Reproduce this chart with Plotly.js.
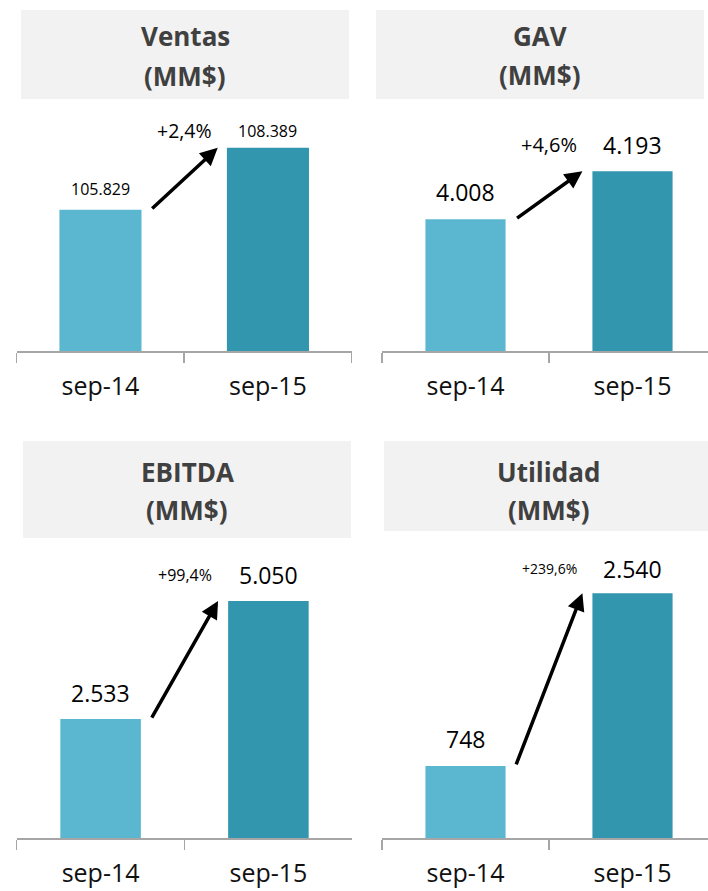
<!DOCTYPE html>
<html>
<head>
<meta charset="utf-8">
<script src="https://cdn.plot.ly/plotly-3.0.1.min.js"></script>
<style>html,body{margin:0;padding:0;background:#fff;}#chart{width:708px;height:891px;}</style>
</head>
<body>
<div id="chart"></div>
<script>
// ---- data ----
const categories = ['sep-14', 'sep-15'];
const panelTitles = ['Ventas', 'GAV', 'EBITDA', 'Utilidad'];
const unitLabel = '(MM$)';
const ventas = [105829, 108389];
const gav = [4008, 4193];
const ebitda = [2533, 5050];
const utilidad = [748, 2540];
const growthLabels = ['+2,4%', '+4,6%', '+99,4%', '+239,6%'];

// ---- styling ----
const barColors = ['#5bb7d0', '#3196ae'];
const FONT = '"Open Sans", "Noto Sans", sans-serif';
const W = 708, H = 891;
const px = v => v / W;
const py = v => 1 - v / H;

function fmt(n) {
  return String(Math.round(n)).replace(/\B(?=(\d{3})+(?!\d))/g, '.');
}

const series = [ventas, gav, ebitda, utilidad];
const panels = [
  { xd: [16.7, 351.7], xr: [-0.5, 1.5], yd: [351, 108.8], yr: [100000, 110000], bw: 0.49,
    box: [21, 349, 10, 99], tx: 185, ty: [36, 76], lab: [16, 16], labShift: [21, 17], pct: 19.5 },
  { xd: [382, 708], xr: [-0.5, -0.5 + 326 / 167], yd: [351, 117.4], yr: [3500, 4400], bw: 0.48,
    box: [376, 704, 10, 99], tx: 540, ty: [36, 75], lab: [23, 23], labShift: [27, 26.5], pct: 20 },
  { xd: [16.7, 352.3], xr: [-0.5, 1.5], yd: [838, 556.3], yr: [0, 6000], bw: 0.48,
    box: [23, 351, 441, 538], tx: 187, ty: [472, 510], lab: [23, 23], labShift: [25.7, 26.3], pct: 16 },
  { xd: [382, 708], xr: [-0.5, -0.5 + 326 / 167], yd: [838, 548.8], yr: [0, 3000], bw: 0.48,
    box: [384, 713, 441, 531], tx: 548.7, ty: [472, 510], lab: [23, 23], labShift: [27, 24.5], pct: 14 }
];

const data = [];
const layout = {
  width: W, height: H,
  margin: { l: 0, r: 0, t: 0, b: 0, pad: 0 },
  paper_bgcolor: '#ffffff', plot_bgcolor: 'rgba(0,0,0,0)',
  showlegend: false,
  font: { family: FONT, color: '#000000' },
  shapes: [], annotations: []
};

panels.forEach((p, i) => {
  const n = i === 0 ? '' : String(i + 1);
  const xa = 'x' + n, ya = 'y' + n;
  const vals = series[i];
  data.push({
    type: 'bar', x: categories, y: vals, xaxis: xa, yaxis: ya,
    width: p.bw, marker: { color: barColors, line: { width: 0 } },
    hoverinfo: 'skip'
  });
  layout['xaxis' + n] = {
    domain: [px(p.xd[0]), Math.min(1, px(p.xd[1]))], range: p.xr, anchor: ya,
    type: 'category', showgrid: false, zeroline: false,
    showline: true, linecolor: '#a6a6a6', linewidth: 1.5,
    ticks: 'outside', tickson: 'boundaries', ticklen: 10, tickwidth: 1.5, tickcolor: '#a6a6a6',
    ticklabelstandoff: 12,
    tickfont: { family: FONT, size: 25, color: '#111111' }, fixedrange: true
  };
  layout['yaxis' + n] = {
    domain: [py(p.yd[0]), py(p.yd[1])], range: p.yr, anchor: xa,
    visible: false, showgrid: false, zeroline: false, fixedrange: true
  };
  // title box
  layout.shapes.push({
    type: 'rect', xref: 'paper', yref: 'paper',
    x0: px(p.box[0]), x1: px(p.box[1]), y0: py(p.box[3]), y1: py(p.box[2]),
    fillcolor: '#f2f2f2', line: { width: 0 }, layer: 'below'
  });
  [panelTitles[i], unitLabel].forEach((t, k) => {
    layout.annotations.push({
      xref: 'paper', yref: 'paper', x: px(p.tx), y: py(p.ty[k]),
      xanchor: 'center', yanchor: 'middle', showarrow: false,
      text: '<b>' + t + '</b>', font: { family: FONT, size: 26, color: '#404040' }
    });
  });
  // value labels
  vals.forEach((v, k) => {
    layout.annotations.push({
      xref: xa, yref: ya, x: categories[k], y: v, yshift: p.labShift[k],
      xanchor: 'center', yanchor: 'middle', showarrow: false,
      text: fmt(v), font: { family: FONT, size: p.lab[k], color: '#000000' }
    });
  });
  // growth label
  layout.annotations.push({
    xref: xa, yref: ya, x: 0.5, y: vals[1], yshift: p.labShift[1],
    xanchor: 'center', yanchor: 'middle', showarrow: false,
    text: growthLabels[i], font: { family: FONT, size: p.pct, color: '#000000' }
  });
  // arrow
  layout.annotations.push({
    xref: xa, yref: ya, axref: xa, ayref: ya,
    x: 0.7, y: vals[1], ax: 0.3, ay: vals[0],
    showarrow: true, arrowhead: 2, arrowsize: 1, arrowwidth: 3.5, arrowcolor: '#000000',
    text: ''
  });
});

Plotly.newPlot('chart', data, layout, { staticPlot: true, displayModeBar: false });
</script>
</body>
</html>
